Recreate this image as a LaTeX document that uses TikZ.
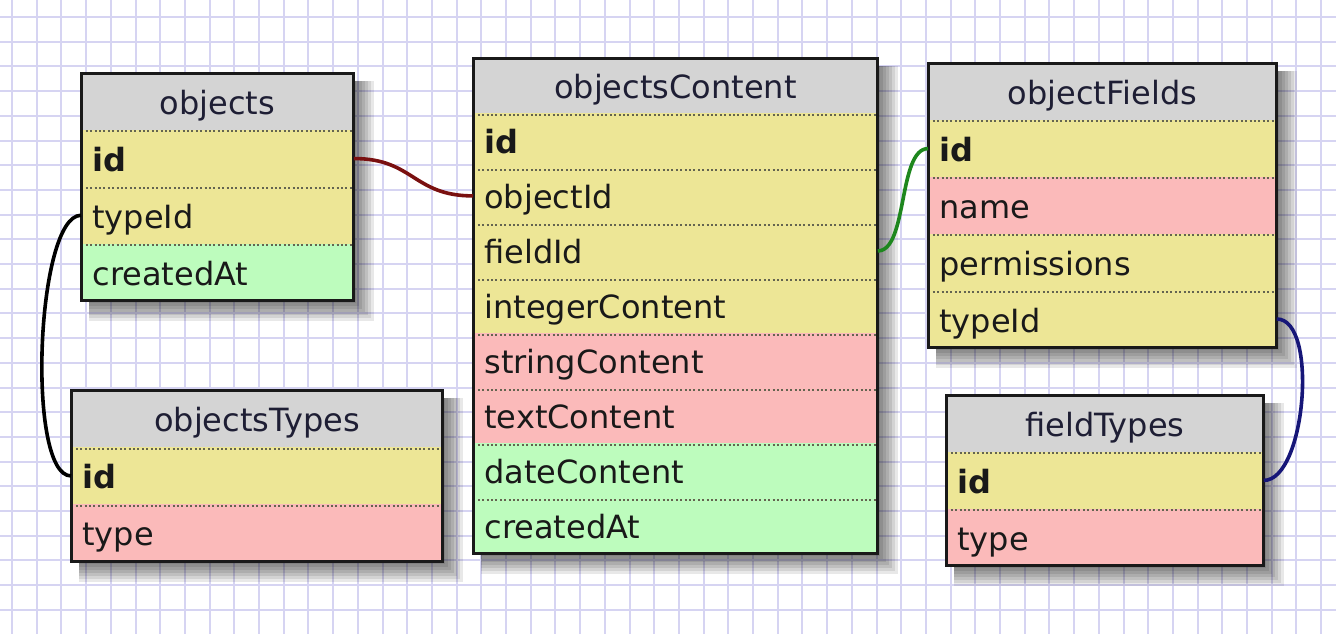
\documentclass[tikz,border=0pt]{standalone}
\usepackage{fontspec}
\setmainfont{DejaVu Sans}
\usetikzlibrary{fit,backgrounds}

\definecolor{gridlav}{RGB}{214,212,242}
\definecolor{headgray}{RGB}{212,212,212}
\definecolor{headink}{RGB}{30,30,52}
\definecolor{keyyellow}{RGB}{237,230,150}
\definecolor{strpink}{RGB}{251,186,186}
\definecolor{dategreen}{RGB}{189,252,189}
\definecolor{sepgray}{RGB}{100,100,80}
\definecolor{linkred}{RGB}{122,16,16}
\definecolor{linkgreen}{RGB}{30,135,30}
\definecolor{linknavy}{RGB}{22,22,120}

\begin{document}
\begin{tikzpicture}[
    x=0.5pt, y=-0.5pt,
    font=\fontsize{16}{19}\selectfont,
    gridln/.style={draw=gridlav, line width=1pt},
    tshade/.style={fill=black, opacity=0.09},
    head/.style={anchor=north west, fill=headgray, text=headink, inner xsep=5.5pt, inner ysep=0pt, align=center, text height=14pt, text depth=1pt},
    sepline/.style={draw=sepgray, line width=1pt, dash pattern=on 1pt off 1.2pt},
    fld/.style={anchor=north west, text=black!90, inner xsep=5.5pt, inner ysep=0pt, align=left, text height=14pt, text depth=1pt,
        path picture={\draw[sepline] ([yshift=-0.6pt]path picture bounding box.north west) -- ([yshift=-0.6pt]path picture bounding box.north east);}},
    keyrow/.style={fld, fill=keyyellow},
    strrow/.style={fld, fill=strpink},
    daterow/.style={fld, fill=dategreen},
    frame/.style={draw=black!90, line width=1.5pt, inner sep=0pt},
    link/.style={line width=1.8pt},
    obtab/.style={text width=125pt, minimum height=28.375pt},
    octab/.style={text width=191pt, minimum height=27.5pt},
    oftab/.style={text width=163pt, minimum height=28.4pt},
    ottab/.style={text width=174.5pt, minimum height=28.5pt},
    fttab/.style={text width=147.5pt, minimum height=28.33pt}
]
    \useasboundingbox (0,0) rectangle (1336,634);

    % objects
    \node[head, obtab] (ob-h) at (81,73) {objects};
    \node[keyrow, obtab] (ob-id) at (81,129.75) {\textbf{id}};
    \node[keyrow, obtab] (ob-typeId) at (81,186.5) {typeId};
    \node[daterow, obtab] (ob-createdAt) at (81,243.25) {createdAt};
    \node[frame, fit=(ob-h)(ob-createdAt)] (objects) {};

    % objectsContent
    \node[head, octab] (oc-h) at (473,58) {objectsContent};
    \node[keyrow, octab] (oc-id) at (473,113) {\textbf{id}};
    \node[keyrow, octab] (oc-objectId) at (473,168) {objectId};
    \node[keyrow, octab] (oc-fieldId) at (473,223) {fieldId};
    \node[keyrow, octab] (oc-integerContent) at (473,278) {integerContent};
    \node[strrow, octab] (oc-stringContent) at (473,333) {stringContent};
    \node[strrow, octab] (oc-textContent) at (473,388) {textContent};
    \node[daterow, octab] (oc-dateContent) at (473,443) {dateContent};
    \node[daterow, octab] (oc-createdAt) at (473,498) {createdAt};
    \node[frame, fit=(oc-h)(oc-createdAt)] (objectsContent) {};

    % objectFields
    \node[head, oftab] (of-h) at (928,63) {objectFields};
    \node[keyrow, oftab] (of-id) at (928,119.8) {\textbf{id}};
    \node[strrow, oftab] (of-name) at (928,176.6) {name};
    \node[keyrow, oftab] (of-permissions) at (928,233.4) {permissions};
    \node[keyrow, oftab] (of-typeId) at (928,290.2) {typeId};
    \node[frame, fit=(of-h)(of-typeId)] (objectFields) {};

    % objectsTypes
    \node[head, ottab] (ot-h) at (71,390) {objectsTypes};
    \node[keyrow, ottab] (ot-id) at (71,447) {\textbf{id}};
    \node[strrow, ottab] (ot-type) at (71,504) {type};
    \node[frame, fit=(ot-h)(ot-type)] (objectsTypes) {};

    % fieldTypes
    \node[head, fttab] (ft-h) at (946,395) {fieldTypes};
    \node[keyrow, fttab] (ft-id) at (946,451.67) {\textbf{id}};
    \node[strrow, fttab] (ft-type) at (946,508.33) {type};
    \node[frame, fit=(ft-h)(ft-type)] (fieldTypes) {};

    % relations
    \draw[link, linkred] (ob-id.east) .. controls +(60,0) and +(-60,0) .. (oc-objectId.west);
    \draw[link, linkgreen] (oc-fieldId.east) .. controls +(30,0) and +(-30,0) .. (of-id.west);
    \draw[link, black] (ob-typeId.west) .. controls +(-45,0) and +(-45,0) .. (ot-id.west);
    \draw[link, linknavy] (of-typeId.east) .. controls +(42,0) and +(42,0) .. (ft-id.east);

    % paper grid and soft shadows
    \begin{scope}[on background layer]
        \fill[white] (0,0) rectangle (1336,634);
        \foreach \i in {0,...,53} \draw[gridln] (12+24.7*\i,0) -- (12+24.7*\i,634);
        \foreach \j in {0,...,24} \draw[gridln] (0,17+24.7*\j) -- (1336,17+24.7*\j);
        \foreach \t in {objects,objectsContent,objectFields,objectsTypes,fieldTypes}
            \foreach \k in {0,...,6}
                \fill[tshade] ([shift={(9,9)}]\t.north west) rectangle ([shift={(1+3*\k,1+3*\k)}]\t.south east);
    \end{scope}
\end{tikzpicture}
\end{document}
